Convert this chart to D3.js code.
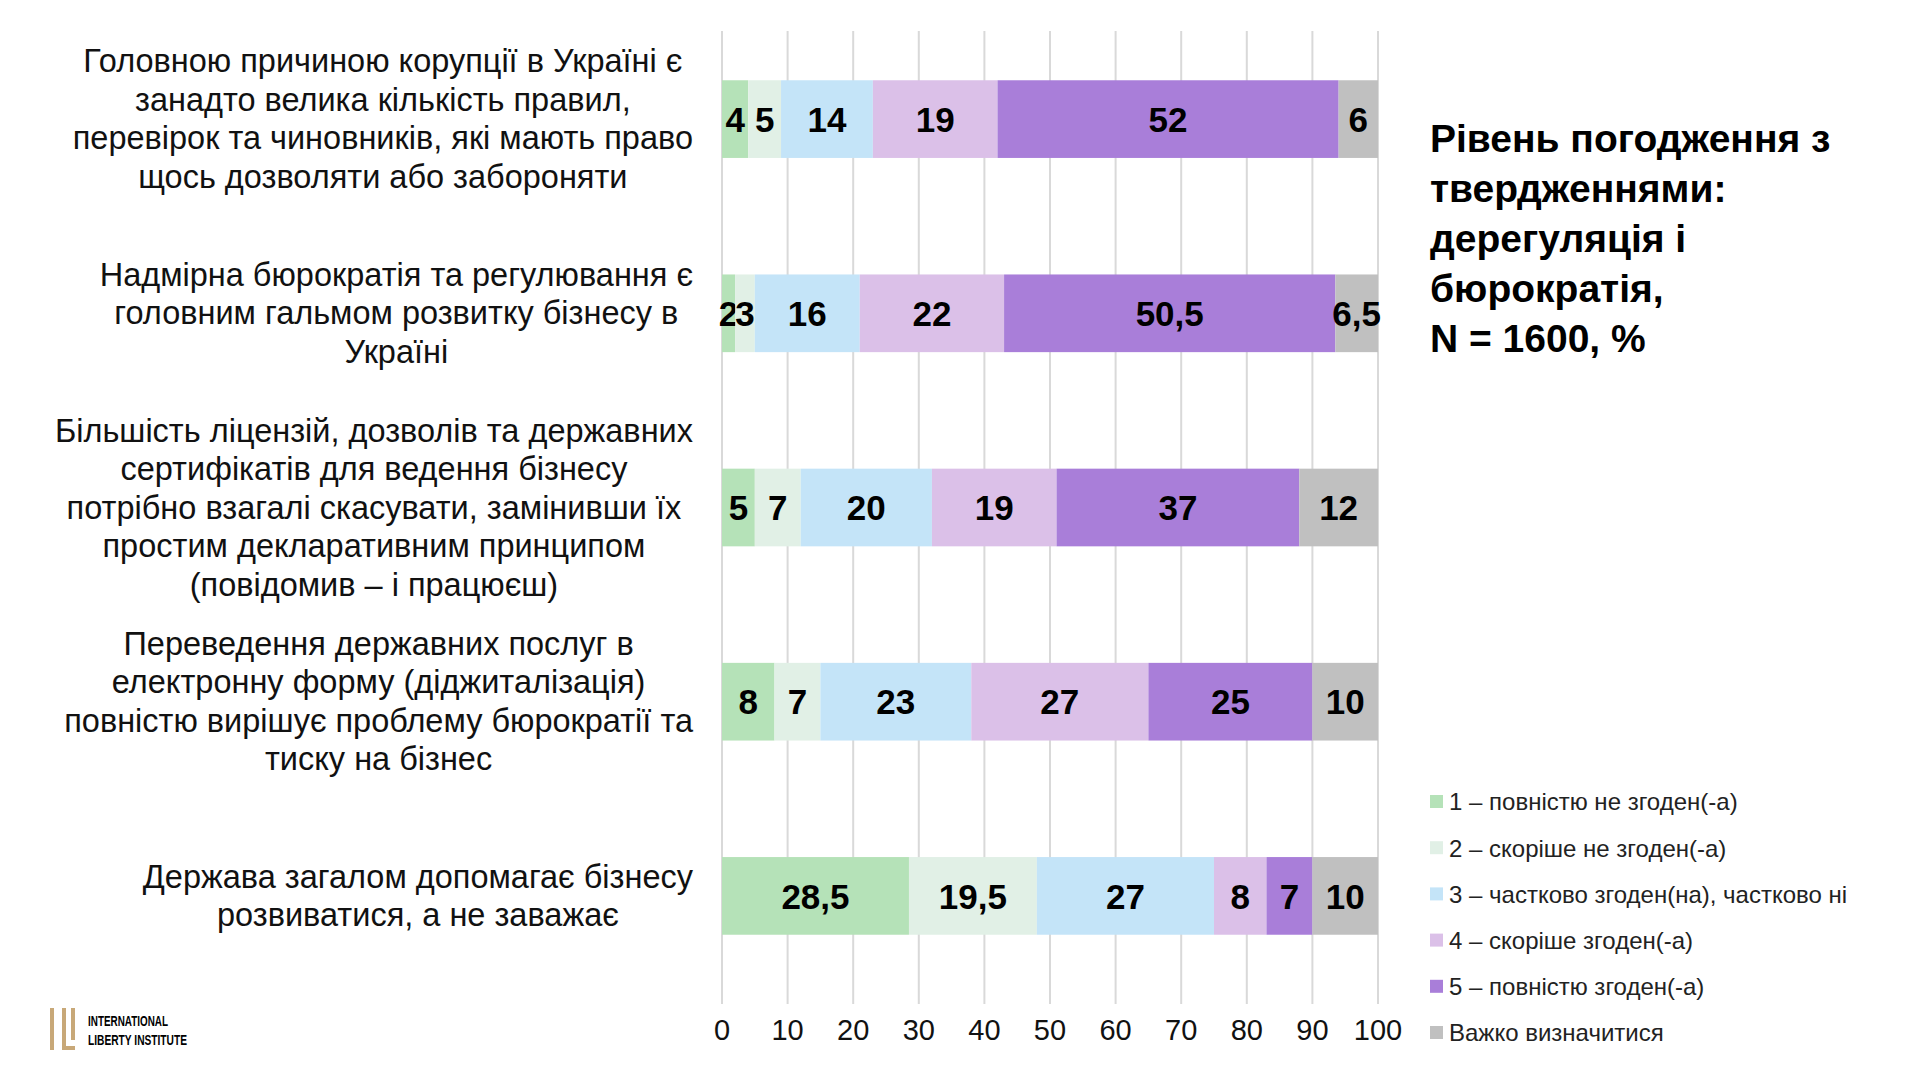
<!DOCTYPE html>
<html><head><meta charset="utf-8">
<script src="https://cdn.jsdelivr.net/npm/d3@7"></script>
<style>body{margin:0;background:#fff}text{font-family:Arial,"Liberation Sans",sans-serif}</style>
</head><body>
<svg width="1920" height="1080"></svg>
<script>
const statements = [
  ["Головною причиною корупції в Україні є", "занадто велика кількість правил,", "перевірок та чиновників, які мають право", "щось дозволяти або забороняти"],
  ["Надмірна бюрократія та регулювання є", "головним гальмом розвитку бізнесу в", "Україні"],
  ["Більшість ліцензій, дозволів та державних", "сертифікатів для ведення бізнесу", "потрібно взагалі скасувати, замінивши їх", "простим декларативним принципом", "(повідомив – і працюєш)"],
  ["Переведення державних послуг в", "електронну форму (діджиталізація)", "повністю вирішує проблему бюрократії та", "тиску на бізнес"],
  ["Держава загалом допомагає бізнесу", "розвиватися, а не заважає"]
]
const seriesNames = ["1 – повністю не згоден(-а)", "2 – скоріше не згоден(-а)", "3 – частково згоден(на), частково ні", "4 – скоріше згоден(-а)", "5 – повністю згоден(-а)", "Важко визначитися"]
const colors = ["#b5e2b8", "#e1f0e6", "#c4e4f8", "#dbc0e8", "#a97ed9", "#c0c0c0"]
const values = [
  [4, 5, 14, 19, 52, 6],
  [2, 3, 16, 22, 50.5, 6.5],
  [5, 7, 20, 19, 37, 12],
  [8, 7, 23, 27, 25, 10],
  [28.5, 19.5, 27, 8, 7, 10]
]
const ticks = [0, 10, 20, 30, 40, 50, 60, 70, 80, 90, 100]
const titleLines = ["Рівень погодження з", "твердженнями:", "дерегуляція і", "бюрократія,", "N = 1600, %"]

const svg = d3.select("svg")
const x = d3.scaleLinear().domain([0, 100]).range([722, 1378])
const y = d3.scaleBand().domain(d3.range(values.length)).range([22, 993]).paddingInner(0.6).paddingOuter(0.3)
const fmt = v => String(v).replace(".", ",")

svg.append("g").selectAll("line").data(ticks).enter().append("line")
  .attr("x1", d => x(d)).attr("x2", d => x(d)).attr("y1", 31).attr("y2", 1004)
  .attr("stroke", "#d9d9d9").attr("stroke-width", 2)

values.forEach((row, i) => {
  let acc = 0
  const g = svg.append("g")
  row.forEach((v, j) => {
    const x0 = acc; acc += v
    g.append("rect").attr("x", x(x0)).attr("width", x(acc) - x(x0))
      .attr("y", y(i)).attr("height", y.bandwidth()).attr("fill", colors[j])
    g.append("text").attr("x", (x(x0) + x(acc)) / 2).attr("y", y(i) + y.bandwidth() / 2)
      .attr("dy", "0.36em").attr("text-anchor", "middle")
      .attr("font-size", 35).attr("font-weight", "bold").text(fmt(v))
  })
  const lines = statements[i]
  const lh = 38.5
  const t = svg.append("text").attr("text-anchor", "middle").attr("font-size", 32.5).attr("fill", "#111")
  const spans = lines.map((l, k) => t.append("tspan")
    .attr("y", y(i) + y.bandwidth() / 2 + (k - (lines.length - 1) / 2) * lh + 11).text(l))
  const maxW = d3.max(spans, s => s.node().getComputedTextLength())
  spans.forEach(s => s.attr("x", 693 - maxW / 2))
})

svg.append("g").selectAll("text").data(ticks).enter().append("text")
  .attr("x", d => x(d)).attr("y", 1040).attr("text-anchor", "middle")
  .attr("font-size", 29).attr("fill", "#111").text(d => d)

const tt = svg.append("text").attr("font-size", 39).attr("font-weight", "bold")
titleLines.forEach((l, k) => tt.append("tspan").attr("x", 1430).attr("y", 152 + k * 50).text(l))

const lg = svg.append("g").selectAll("g").data(seriesNames).enter().append("g")
  .attr("transform", (d, i) => `translate(1430,${802 + i * 46.2})`)
lg.append("rect").attr("x", 0).attr("y", -7).attr("width", 13).attr("height", 13).attr("fill", (d, i) => colors[i])
lg.append("text").attr("x", 19).attr("y", 0).attr("dy", "0.35em").attr("font-size", 24).attr("fill", "#222").text(d => d)

// logo
const logo = svg.append("g").attr("fill", "#c8a878")
logo.append("rect").attr("x", 50).attr("y", 1008).attr("width", 4).attr("height", 42)
logo.append("rect").attr("x", 62).attr("y", 1008).attr("width", 4).attr("height", 42)
logo.append("rect").attr("x", 62).attr("y", 1046).attr("width", 13).attr("height", 4)
logo.append("rect").attr("x", 71).attr("y", 1008).attr("width", 4).attr("height", 32)
svg.append("text").attr("x", 88).attr("y", 1026).attr("font-size", 15).attr("font-weight", "bold")
  .attr("textLength", 80).attr("lengthAdjust", "spacingAndGlyphs").text("INTERNATIONAL")
svg.append("text").attr("x", 88).attr("y", 1045).attr("font-size", 15).attr("font-weight", "bold")
  .attr("textLength", 99).attr("lengthAdjust", "spacingAndGlyphs").text("LIBERTY INSTITUTE")
</script>
</body></html>
